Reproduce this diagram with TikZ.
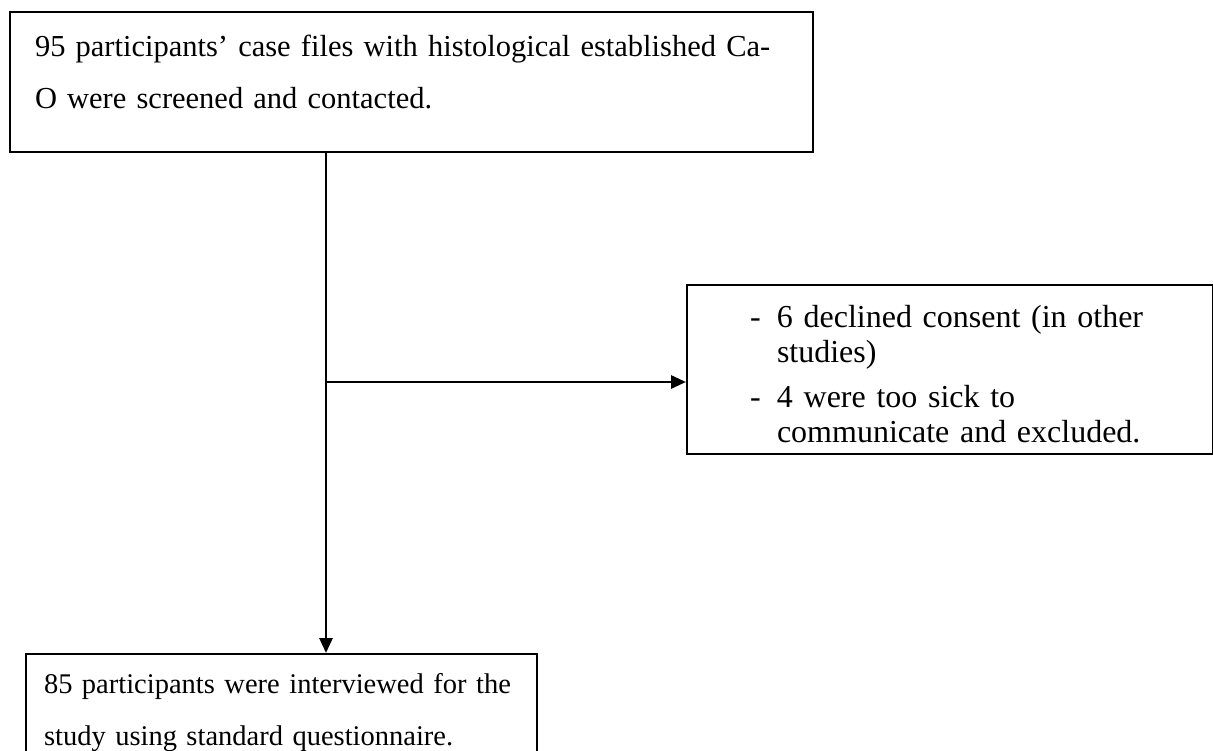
\documentclass[tikz,border=0pt]{standalone}
\usepackage{fontspec}
\setmainfont{Liberation Serif}
\usetikzlibrary{arrows.meta,positioning,calc}

\begin{document}
\begin{tikzpicture}[
  x=1pt, y=1pt, >={Triangle[length=15pt,width=13pt]},
  flowbox/.style={rectangle,draw=black,line width=2pt,anchor=north west,
    align=left,inner xsep=25pt,inner ysep=23pt,
    font=\fontsize{30.5}{52}\selectfont},
  exclbox/.style={flowbox,inner xsep=20pt,inner ysep=11pt,
    font=\fontsize{32}{35}\selectfont},
  endbox/.style={flowbox,inner xsep=18pt,inner ysep=19pt,
    font=\fontsize{28.5}{52}\selectfont},
  link/.style={line width=2.8pt},
  arrow/.style={link,->},
]
\useasboundingbox (0,0) rectangle (1213,-751);
\node[flowbox, text width=753pt] (screened) at (9,-11)
  {95 participants’ case files with histological established Ca-\\
   O were screened and contacted.\rule[-21pt]{0pt}{0pt}};
\node[exclbox, text width=486pt] (excluded) at (686,-284)
  {\rule{0pt}{32pt}\hspace*{43pt}\makebox[27pt][l]{-}6 declined consent (in other\\
   \hspace*{70pt}studies)\\[10pt]
   \hspace*{43pt}\makebox[27pt][l]{-}4 were too sick to\\
   \hspace*{70pt}communicate and excluded.};
\node[endbox, text width=475pt] (interviewed) at (25,-653)
  {85 participants were interviewed for the\\
   study using standard questionnaire.\rule[-40pt]{0pt}{0pt}};

\coordinate (split) at (326,-382);
\draw[arrow] (split |- screened.south) -- (split |- interviewed.north);
\draw[arrow] (split) -- (split -| excluded.west);
\end{tikzpicture}
\end{document}
